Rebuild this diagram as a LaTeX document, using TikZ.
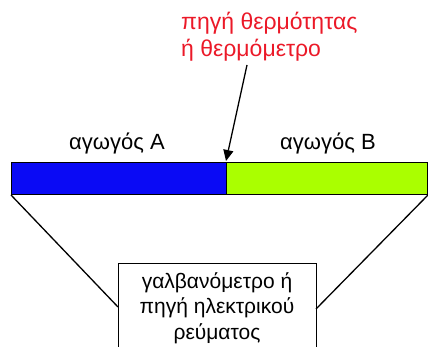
\documentclass[tikz,border=0pt]{standalone}
\usepackage{fontspec}
\setmainfont{Liberation Sans}
\usetikzlibrary{arrows.meta}
\definecolor{barA}{RGB}{10,10,245}
\definecolor{barB}{RGB}{170,255,0}
\definecolor{lbl}{RGB}{235,25,40}
\tikzset{
  txt/.style={font=\fontsize{22}{26}\selectfont, inner sep=0pt},
  wire/.style={draw=black, line width=1.3pt},
}
\begin{document}
\begin{tikzpicture}[x=1pt,y=-1pt]
\useasboundingbox (0,0) rectangle (428,347);
\begin{scope}
\clip (0,0) rectangle (428,347);
% bar
\node[draw=black, line width=1pt, fill=barA, minimum width=215pt, minimum height=32pt, inner sep=0pt, anchor=north west] (A) at (11,162) {};
\node[draw=black, line width=1pt, fill=barB, minimum width=201pt, minimum height=32pt, inner sep=0pt, anchor=north west] (B) at (226,162) {};
\coordinate (J) at (226,161);
% labels
\node[txt] (la) at (117,143) {αγωγός A};
\node[txt] (lb) at (328,143) {αγωγός B};
\node[txt, text=lbl, align=left, anchor=north west, font=\fontsize{23}{27}\selectfont] (src) at (181,12) {πηγή θερμότητας\\ή θερμόμετρο};
\coordinate (S) at (247,65);
\draw[line width=1.3pt, -{Triangle[length=11pt,width=10pt]}] (S) -- (J);
% box
\node[draw=black, line width=1pt, fill=white, minimum width=198pt, minimum height=110pt, anchor=north west, inner sep=0pt] (G) at (118,263) {};
\node[txt, align=center, anchor=north, font=\fontsize{21}{25.5}\selectfont] (gt) at (217,272) {γαλβανόμετρο ή\\πηγή ηλεκτρικού\\ρεύματος};
\coordinate (GL) at (118,307);
\coordinate (GR) at (316,309);
\draw[wire] (A.south west) -- (GL);
\draw[wire] (B.south east) -- (GR);
\end{scope}
\end{tikzpicture}
\end{document}
